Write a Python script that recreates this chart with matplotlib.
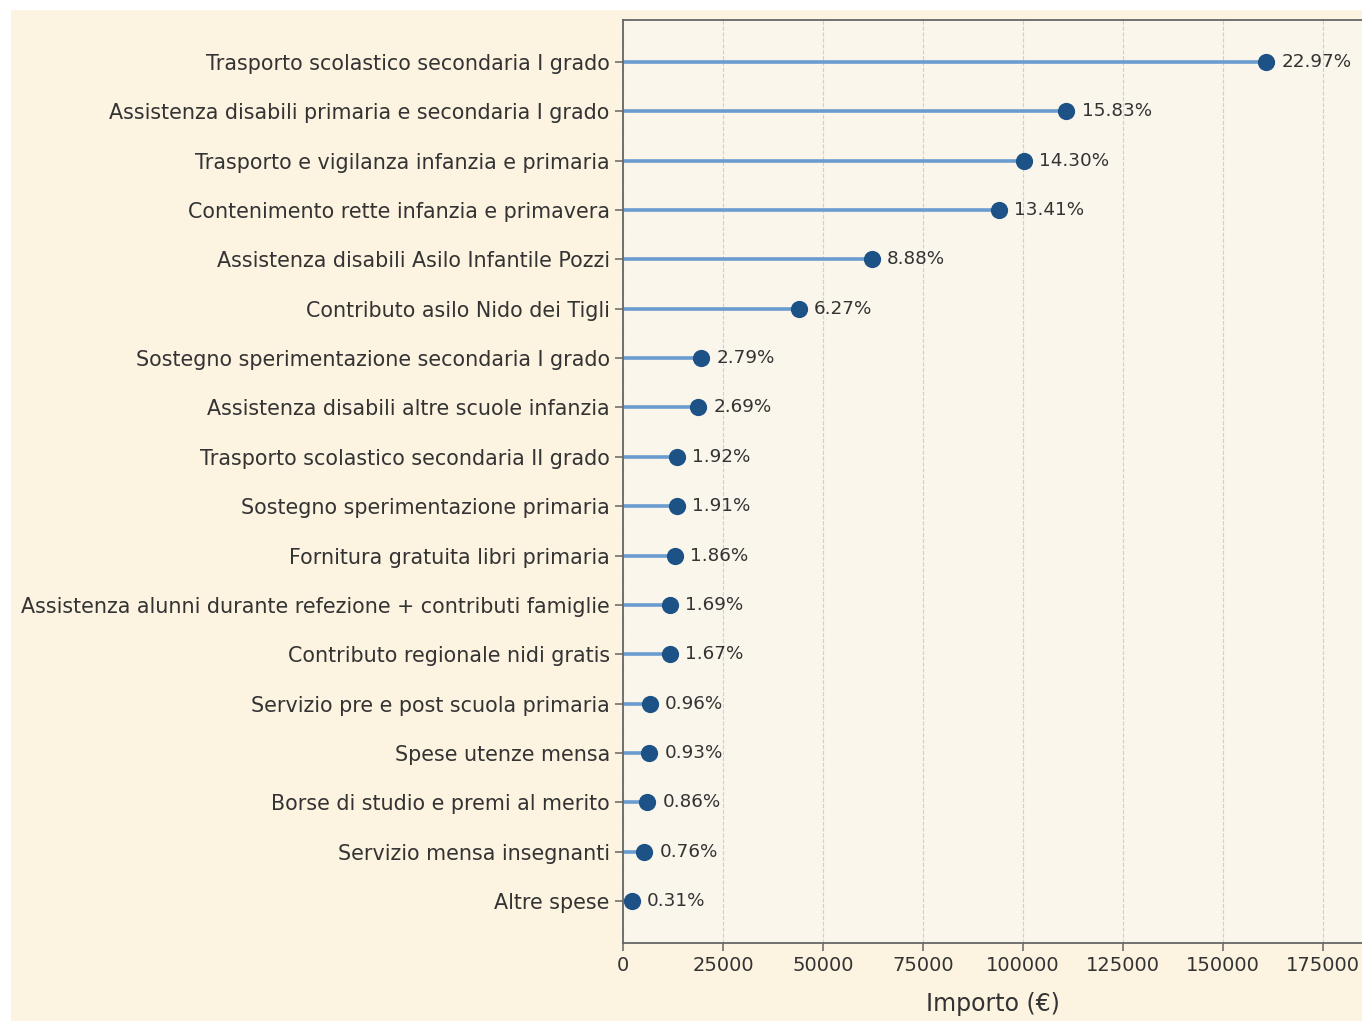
import matplotlib
matplotlib.use("Agg")
import matplotlib.pyplot as plt
from matplotlib.patches import Rectangle

categories = [
    "Trasporto scolastico secondaria I grado",
    "Assistenza disabili primaria e secondaria I grado",
    "Trasporto e vigilanza infanzia e primaria",
    "Contenimento rette infanzia e primavera",
    "Assistenza disabili Asilo Infantile Pozzi",
    "Contributo asilo Nido dei Tigli",
    "Sostegno sperimentazione secondaria I grado",
    "Assistenza disabili altre scuole infanzia",
    "Trasporto scolastico secondaria II grado",
    "Sostegno sperimentazione primaria",
    "Fornitura gratuita libri primaria",
    "Assistenza alunni durante refezione + contributi famiglie",
    "Contributo regionale nidi gratis",
    "Servizio pre e post scuola primaria",
    "Spese utenze mensa",
    "Borse di studio e premi al merito",
    "Servizio mensa insegnanti",
    "Altre spese",
]
values = [160800, 110800, 100100, 93900, 62200, 43900, 19500, 18800, 13400,
          13400, 13000, 11800, 11700, 6700, 6500, 6000, 5300, 2200]
pct_labels = ["22.97%", "15.83%", "14.30%", "13.41%", "8.88%", "6.27%", "2.79%",
              "2.69%", "1.92%", "1.91%", "1.86%", "1.69%", "1.67%", "0.96%",
              "0.93%", "0.86%", "0.76%", "0.31%"]
xticks = [0, 25000, 50000, 75000, 100000, 125000, 150000, 175000]

plt.rcParams['font.family'] = ['DejaVu Sans']
text_color = "#333333"

fig = plt.figure(figsize=(13.62, 10.21), dpi=100, facecolor="white")
fig.patches.append(Rectangle((11 / 1362, -0.01), 1, 0.01 + (1021 - 10) / 1021,
                             transform=fig.transFigure, facecolor="#fcf3e1",
                             edgecolor="none", zorder=-10))

ax = fig.add_axes([623 / 1362, 78 / 1021, (1363 - 623) / 1362, (943 - 20) / 1021])
ax.set_facecolor("#faf6ec")

ypos = list(range(len(categories)))[::-1]
ax.hlines(ypos, 0, values, color="#6b9ccf", linewidth=2.6, zorder=2)
ax.scatter(values, ypos, s=130, color="#1c5286", zorder=3)
for v, y, lab in zip(values, ypos, pct_labels):
    ax.annotate(lab, (v, y), xytext=(11, 0), textcoords="offset points",
                va="center", ha="left", fontsize=13.2, color=text_color)

ax.set_yticks(ypos)
ax.set_yticklabels(categories, fontsize=14.9, color=text_color)
ax.set_xticks(xticks)
ax.set_xticklabels([str(t) for t in xticks], fontsize=14, color=text_color)
ax.set_xlim(0, max(values) * 1.15)
ax.set_ylim(-0.85, len(categories) - 1 + 0.85)
ax.set_xlabel("Importo (€)", fontsize=17, color=text_color, labelpad=12)

ax.grid(axis="x", linestyle="--", color="#c9d0d6", linewidth=0.8, zorder=0)
ax.set_axisbelow(True)
for s in ax.spines.values():
    s.set_color("#666666")
    s.set_linewidth(1.3)
ax.tick_params(colors="#666666", length=6, width=1.1, labelcolor=text_color)

fig.savefig("out.png", dpi=100, facecolor=fig.get_facecolor())
